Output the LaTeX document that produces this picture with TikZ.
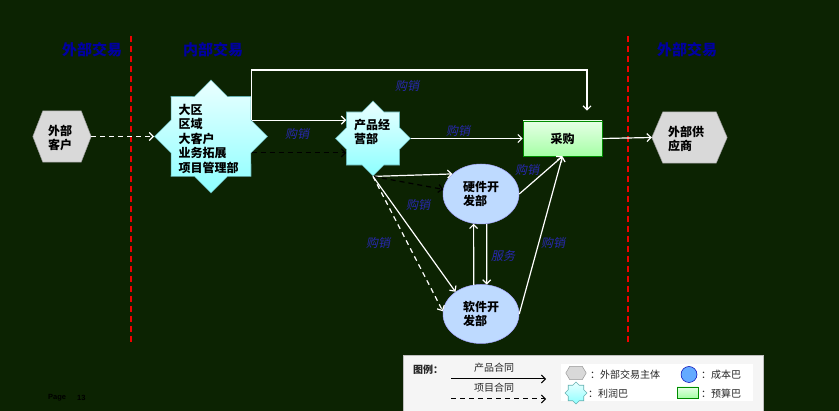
\documentclass[tikz,border=0pt]{standalone}
\usepackage{fontspec}
\setmainfont{Noto Sans CJK SC}
\newfontfamily\cjkit[FakeSlant=0.2]{Noto Sans CJK SC}
\newfontfamily\pagefont{Liberation Sans}
\usetikzlibrary{shapes.geometric,arrows.meta,calc}
\definecolor{bg}{RGB}{12,35,2}
\definecolor{hdrblue}{RGB}{0,0,160}
\definecolor{lblblue}{RGB}{40,40,175}
\definecolor{hexgray}{RGB}{217,217,217}
\definecolor{ellblue}{RGB}{190,218,255}
\definecolor{legblue}{RGB}{100,170,255}
\tikzset{
  wa/.style={draw=white, line width=1.2pt, -{Straight Barb[length=4pt,width=8pt]}},
  wd/.style={wa, dash pattern=on 5pt off 4pt},
  bd/.style={draw=black, line width=1.2pt, dash pattern=on 5pt off 4pt, -{Straight Barb[length=4pt,width=8pt]}},
  ba/.style={draw=black, line width=1pt, -{Straight Barb[length=4pt,width=8pt]}},
  reddash/.style={draw=red!95!black, line width=1.6pt, dash pattern=on 6pt off 4pt},
  hdr/.style={text=hdrblue, font=\fontsize{15}{17}\selectfont\bfseries},
  lbl/.style={text=lblblue, font=\cjkit\fontsize{12}{14}\selectfont},
  txt/.style={align=left, font=\fontsize{12}{14.5}\selectfont\bfseries, text=black, inner sep=0pt},
  hexfill/.style={fill=hexgray, draw=gray!80, line width=0.5pt},
  starsty/.style={shape=star, star points=8, star point ratio=1.307, inner sep=0pt,
     top color=cyan!8, bottom color=cyan!45, draw=teal!60, line width=0.6pt},
  boxsty/.style={draw=green!55!black, line width=0.6pt, top color=green!10, bottom color=green!35},
  ellsty/.style={shape=ellipse, fill=ellblue, draw=blue!35, line width=0.5pt, align=left,
     font=\fontsize{12}{14.5}\selectfont\bfseries, inner sep=0pt},
  legtxt/.style={font=\fontsize{10}{12}\selectfont, text=black!85, inner sep=0pt}
}
\begin{document}
\begin{tikzpicture}[x=1pt,y=-1pt]
\fill[bg] (0,0) rectangle (839,411);
\useasboundingbox (0,0) rectangle (839,411);

% divider lines
\coordinate (d1t) at (131,36); \coordinate (d1b) at (131,343);
\coordinate (d2t) at (628,36); \coordinate (d2b) at (628,343);
\draw[reddash] (d1t) -- (d1b);
\draw[reddash] (d2t) -- (d2b);

% headers
\node[hdr] (h1) at (92,50) {外部交易};
\node[hdr] (h2) at (213,50) {内部交易};
\node[hdr] (h3) at (687,50) {外部交易};

% external customer
\node[minimum width=58pt, minimum height=51pt, inner sep=0pt] (cust) at (62,136.5) {};
\filldraw[hexfill] (cust.west) -- ($(cust.north west)+(10,0)$) -- ($(cust.north east)+(-10,0)$) -- (cust.east) -- ($(cust.south east)+(-10,0)$) -- ($(cust.south west)+(10,0)$) -- cycle;
\node[txt] (custt) at (60,138) {外部\\客户};

% external supplier
\node[minimum width=75pt, minimum height=51pt, inner sep=0pt] (sup) at (689.5,137.5) {};
\filldraw[hexfill] (sup.west) -- ($(sup.north west)+(11,0)$) -- ($(sup.north east)+(-11,0)$) -- (sup.east) -- ($(sup.south east)+(-11,0)$) -- ($(sup.south west)+(11,0)$) -- cycle;
\node[txt] (supt) at (686,139) {外部供\\应商};

% big star
\node[starsty, minimum size=113pt] (bs) at (211,136.5) {};
\node[txt] (bst) at (208.5,138.5) {大区\\区域\\大客户\\业务拓展\\项目管理部};

% product star
\node[starsty, minimum size=75pt] (s2) at (373,138.5) {};
\node[txt] (s2t) at (372,132) {产品经\\营部};

% purchasing
\node[boxsty, minimum width=79pt, minimum height=35pt, font=\fontsize{12}{14}\selectfont\bfseries] (cg) at (562.5,138.5) {采购};

% ellipses
\node[ellsty, minimum width=76pt, minimum height=60pt] (hw) at (481,194) {硬件开\\发部};
\node[ellsty, minimum width=76pt, minimum height=59pt] (sw) at (481,314) {软件开\\发部};

% connectors
\draw[wd] (cust.east) -- (bs.west);
\coordinate (topR) at (587,70);
\draw[wa] (bs.22.5) -- (bs.22.5 |- topR) -- (topR) -- ($(topR |- cg.north)+(0,-10)$);
\draw[wa] (bs.22.5) -- (bs.22.5 -| s2.150);
\draw[bd] (bs.-22.5) -- (bs.-22.5 -| s2.-150);
\draw[wa] (s2.east) -- (cg.west);
\draw[wa] (s2.south) -- (hw.145);
\draw[bd] (s2.south) -- (hw.173);
\draw[wa] (s2.south) -- (sw.139);
\draw[wd] (s2.south) -- (sw.176);
\draw[wa] (hw.east) -- (cg.south);
\draw[wa] (sw.east) -- (cg.south);
\draw[wa] (sw.104) -- (hw.256);
\draw[wa] (hw.-79) -- (sw.79);
\draw[wa] (cg.east) -- (sup.west);

% labels
\node[lbl] (l1) at (407,86) {购销};
\node[lbl] (l2) at (297,134) {购销};
\node[lbl] (l3) at (458,131) {购销};
\node[lbl] (l4) at (527,170) {购销};
\node[lbl] (l5) at (418,205) {购销};
\node[lbl] (l6) at (378,243) {购销};
\node[lbl] (l7) at (553,243) {购销};
\node[lbl] (l8) at (503,256) {服务};

% legend
\node[draw=gray!50, fill=gray!8, minimum width=360pt, minimum height=62pt, anchor=north west, inner sep=0pt] (leg) at (403,355) {};
\node[fill=white, minimum width=192pt, minimum height=37pt, inner sep=0pt] (legin) at (657,382.5) {};
\node[legtxt, font=\fontsize{10}{12}\selectfont\bfseries] (legt) at (428,370) {图例：};
\node[legtxt] (lt1) at (494,368) {产品合同};
\node[legtxt] (lt2) at (494,388) {项目合同};
\coordinate (la1) at (451,379); \coordinate (la2) at (546,379);
\coordinate (lb1) at (451,399); \coordinate (lb2) at (546,399);
\draw[ba] (la1) -- (la2);
\draw[ba, dash pattern=on 5pt off 4pt] (lb1) -- (lb2);
\node[minimum width=20pt, minimum height=13pt, inner sep=0pt] (lhex) at (576,373) {};
\filldraw[hexfill] (lhex.west) -- ($(lhex.north west)+(4,0)$) -- ($(lhex.north east)+(-4,0)$) -- (lhex.east) -- ($(lhex.south east)+(-4,0)$) -- ($(lhex.south west)+(4,0)$) -- cycle;
\node[legtxt, anchor=west] (lh) at (590,375) {：外部交易主体};
\node[circle, fill=legblue, draw=blue!70!black, line width=0.5pt, minimum size=16pt, inner sep=0pt] (lcirc) at (689,374.5) {};
\node[legtxt, anchor=west] (lc) at (701,375) {：成本巴};
\node[starsty, minimum size=22pt] (lstar) at (576,393) {};
\node[legtxt, anchor=west] (ls) at (588,394) {：利润巴};
\node[boxsty, minimum width=21pt, minimum height=11pt, inner sep=0pt] (lbox) at (687.5,392.5) {};
\node[legtxt, anchor=west] (lbx) at (701,394) {：预算巴};

% page number
\node[font=\pagefont\bfseries\fontsize{7.5}{8}\selectfont, text=black, anchor=west, inner sep=0pt] (pg) at (48,398) {Page};
\node[font=\pagefont\bfseries\fontsize{7.5}{8}\selectfont, text=black, anchor=west, inner sep=0pt] (pgn) at (77,398) {13};
\end{tikzpicture}
\end{document}
